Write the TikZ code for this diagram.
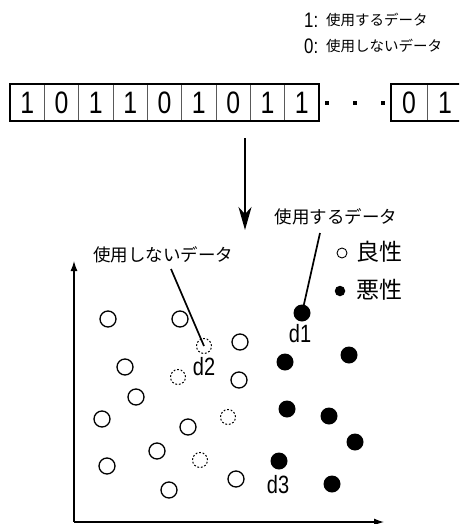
\documentclass[tikz,border=0pt]{standalone}
\usepackage{fontspec}
\usetikzlibrary{arrows.meta}
\newfontfamily\jp{Noto Sans CJK JP}
\newfontfamily\narrow[FakeStretch=0.8]{Liberation Sans}
\tikzset{
  opencirc/.style={circle,draw=black,line width=1.3pt,minimum size=16pt,inner sep=0pt},
  dashcirc/.style={circle,draw=black,line width=1pt,dash pattern=on 1.8pt off 1.8pt,minimum size=15pt,inner sep=0pt},
  fillcirc/.style={circle,fill=black,minimum size=17pt,inner sep=0pt},
  legopen/.style={circle,draw=black,line width=0.9pt,minimum size=10pt,inner sep=0pt},
  legfill/.style={circle,fill=black,minimum size=10.5pt,inner sep=0pt},
  bitcell/.style={inner sep=0pt,font=\narrow\fontsize{31}{31}\selectfont},
  dlabel/.style={inner sep=0pt,font=\narrow\fontsize{25}{25}\selectfont},
  jplabel/.style={inner sep=0pt,font=\jp\fontsize{17.5}{17.5}\selectfont},
  legsmall/.style={inner sep=0pt,font=\jp\fontsize{14.5}{14.5}\selectfont,anchor=west},
  legdigit/.style={inner sep=0pt,font=\narrow\fontsize{21}{21}\selectfont,anchor=west},
  legbig/.style={inner sep=0pt,font=\jp\fontsize{23}{23}\selectfont},
  pointer/.style={line width=1.7pt},
  axis/.style={line width=1.3pt,-{Latex[length=10pt,width=7pt]}},
  dotsq/.style={fill=black,minimum size=4pt,inner sep=0pt,rectangle}
}
\begin{document}
\begin{tikzpicture}[x=1pt,y=-1pt]
\useasboundingbox (0,0) rectangle (459,524);
\clip (0,0) rectangle (459,524);
% top legend
\node[legdigit] (l1d) at (304,20) {1:};
\node[legsmall] (l1t) at (326,20) {使用するデータ};
\node[legdigit] (l0d) at (304,46) {0:};
\node[legsmall] (l0t) at (326,46) {使用しないデータ};
% bit row, first block
\foreach \d [count=\i from 0] in {1,0,1,1,0,1,0,1,1} {
  \pgfmathsetmacro{\xa}{10+34.33*\i}
  \node[bitcell] (b\i) at (\xa+17.17,103) {\d};
}
\foreach \i in {1,...,8} {
  \draw[gray!70!black,line width=0.6pt] (10+34.33*\i,84) -- (10+34.33*\i,121);
}
\draw[line width=1.1pt] (10,84) rectangle (319,121);
% dots
\node[dotsq] (dt1) at (327,103) {};
\node[dotsq] (dt2) at (355,103) {};
\node[dotsq] (dt3) at (383,103) {};
% second block
\node[bitcell] (e0) at (409,103) {0};
\node[bitcell] (e1) at (445,103) {1};
\draw[gray!70!black,line width=0.6pt] (427,84) -- (427,121);
\draw[line width=1.1pt] (391,84) rectangle (463,121);
% main arrow
\coordinate (arrs) at (245,138);
\coordinate (arre) at (245,230);
\draw[line width=1.7pt,-{Stealth[length=23pt,width=13pt,inset=7pt]}] (arrs) -- (arre);
% axes
\coordinate (org) at (74,522);
\coordinate (ytip) at (74,261);
\coordinate (xtip) at (384,522);
\draw[axis] (org) -- (ytip);
\draw[axis] (org) -- (xtip);
% open circles
\foreach \p [count=\k] in {(108,319),(180,319),(240,342),(125,367),(239,380),(136,397),(102,419),(188,427),(157,451),(107,466),(169,490),(236,479)}
  \node[opencirc] (o\k) at \p {};
% dashed circles
\node[dashcirc] (u1) at (204,346) {};
\foreach \p [count=\k from 2] in {(178,377),(228,417),(200,460)}
  \node[dashcirc] (u\k) at \p {};
% filled circles
\node[fillcirc] (d1) at (302,313) {};
\foreach \p [count=\k] in {(285,362),(349,355),(287,409),(329,416),(355,442),(279,461),(332,484)}
  \node[fillcirc] (f\k) at \p {};
% labels
\node[dlabel] (d1l) at (300,334) {d1};
\node[dlabel] (d2l) at (204,367) {d2};
\node[dlabel] (d3l) at (278,485) {d3};
\node[jplabel] (use) at (336,217) {使用するデータ};
\node[jplabel] (nouse) at (163,255) {使用しないデータ};
\coordinate (p1s) at (320,233);
\coordinate (p2s) at (171,269);
\draw[pointer] (p1s) -- (d1.center);
\draw[pointer] (p2s) -- (u1.center);
% legend
\node[legopen] (gsym) at (342,253) {};
\node[legbig] (good) at (379,252) {良性};
\node[legfill] (bsym) at (340,291) {};
\node[legbig] (bad) at (379,290) {悪性};
\end{tikzpicture}
\end{document}
